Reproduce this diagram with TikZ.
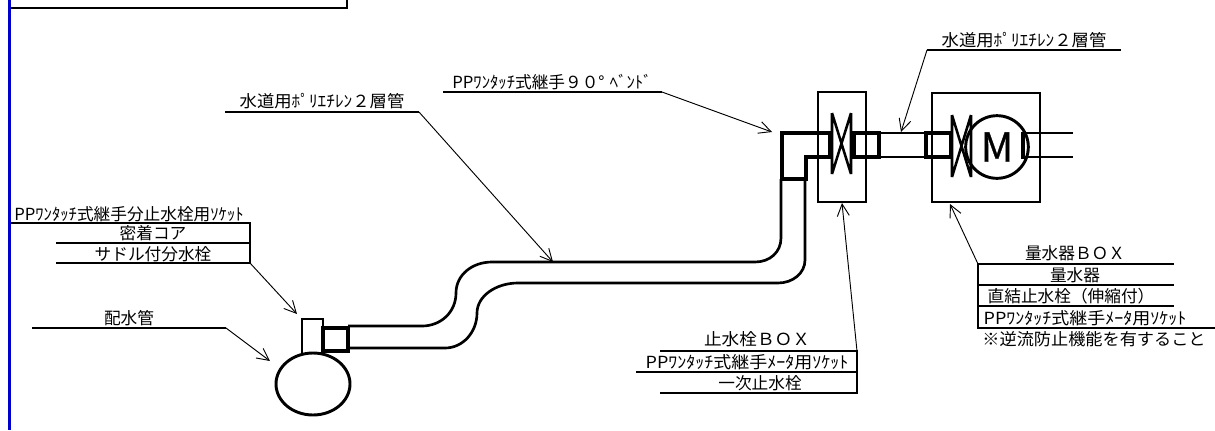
\documentclass[tikz,border=0pt]{standalone}
\usepackage{fontspec}
\setmainfont{Noto Sans CJK JP}
\usetikzlibrary{arrows.meta}
\definecolor{framebl}{RGB}{0,0,205}
\tikzset{
	lbl/.style={inner sep=0pt, font=\fontsize{12.5}{12.5}\selectfont},
	rule/.style={line width=1.9pt},
	leader/.style={line width=0.7pt, -{Straight Barb[length=9pt, width=9pt, line width=0.7pt]}},
	pipe/.style={line width=2pt},
	fitting/.style={line width=3pt},
	wall/.style={line width=1.1pt},
	valve/.style={line width=1.9pt},
}
\begin{document}
\begin{tikzpicture}[x=0.75pt, y=-0.75pt]
	\useasboundingbox(0,0)rectangle(1215,430);
	\fill[white](0,0)rectangle(1215,430);
	\draw[line width=2.4pt, framebl](9.5,0)--(9.5,430);
	\draw[line width=2.2pt](11,8)--(347,8)--(347,0);

	\node[lbl, xscale=1.04](pipeA)at(322,101){水道用ﾎﾟﾘｴﾁﾚﾝ２層管};
	\node[lbl](bend)at(552,82){PPﾜﾝﾀｯﾁ式継手９０°\hspace{4pt}ﾍﾞﾝﾄﾞ};
	\node[lbl, xscale=1.04](pipeB)at(1024,40){水道用ﾎﾟﾘｴﾁﾚﾝ２層管};
	\node[lbl](sock)at(129,214){PPﾜﾝﾀｯﾁ式継手分止水栓用ｿｹｯﾄ};
	\node[lbl](core)at(153,233){密着コア};
	\node[lbl](saddle)at(153,254){サドル付分水栓};
	\node[lbl](main)at(129,318){配水管};
	\node[lbl, xscale=1.06](stopbox)at(757,339){止水栓ＢＯＸ};
	\node[lbl, xscale=1.08](stopsock)at(747,362){PPﾜﾝﾀｯﾁ式継手ﾒｰﾀ用ｿｹｯﾄ};
	\node[lbl](stop)at(760,383){一次止水栓};
	\node[lbl](meterbox)at(1075,253){量水器ＢＯＸ};
	\node[lbl](meter)at(1075,275){量水器};
	\node[lbl](direct)at(1071,296){直結止水栓（伸縮付）};
	\node[lbl, xscale=1.08](metersock)at(1085,318){PPﾜﾝﾀｯﾁ式継手ﾒｰﾀ用ｿｹｯﾄ};
	\node[lbl, xscale=1.03](note)at(1094,339){※逆流防止機能を有すること};

	\coordinate(pipeAend)at(419,112);
	\coordinate(bendend)at(662,92);
	\coordinate(pipeBend)at(927,50);
	\coordinate(saddleend)at(250,263);
	\coordinate(mainend)at(226,328);
	\coordinate(stopend)at(857,351);
	\coordinate(meterend)at(978,264);

	\draw[rule](225,112)--(pipeAend);
	\draw[rule](443,92)--(bendend);
	\draw[rule](pipeBend)--(1121,50);
	\draw[rule](11,223)--(250,223)--(saddleend)--(56,263);
	\draw[rule](56,243)--(250,243);
	\draw[rule](32,328)--(mainend);
	\draw[rule](660,351)--(stopend)--(857,393)--(660,393);
	\draw[rule](636,372)--(857,372);
	\draw[rule](1174,264)--(meterend)--(978,328)--(1215,328);
	\draw[rule](978,285)--(1174,285);
	\draw[rule](978,306)--(1174,306);

	\coordinate(pipeAtip)at(553,262);
	\coordinate(bendtip)at(772,132);
	\coordinate(pipeBtip)at(901,132);
	\coordinate(saddletip)at(297,314);
	\coordinate(maintip)at(270,361);
	\coordinate(stoptip)at(842,203);
	\coordinate(metertip)at(950,204);
	\draw[leader](pipeAend)--(pipeAtip);
	\draw[leader](bendend)--(bendtip);
	\draw[leader](pipeBend)--(pipeBtip);
	\draw[leader](saddleend)--(saddletip);
	\draw[leader](mainend)--(maintip);
	\draw[leader](stopend)--(stoptip);
	\draw[leader](meterend)--(metertip);

	\draw[line width=2.2pt](313,384)ellipse[x radius=37, y radius=31];
	\draw[line width=2.2pt](302,353)--(302,319)--(323,319)--(323,353);
	\draw[fitting](323,328)rectangle(348,351);
	\draw[pipe](348,326)--(422,326).. controls (441,326) and (456,312) .. (456,293).. controls (456,275) and (472,262) .. (492,262)--(755,262).. controls (770,262) and (781,252) .. (781,238)--(781,179);
	\draw[pipe](348,348)--(445,348).. controls (463,348) and (477,332) .. (477,313).. controls (477,296) and (496,283) .. (518,283)--(778,283).. controls (793,283) and (805,273) .. (805,260)--(805,179);
	\draw[fitting](830,133)--(782,133)--(782,179)--(806,179)--(806,157)--(830,157)--cycle;

	\draw[wall](818,92)rectangle(866,202);
	\draw[wall](932,93)rectangle(1040,202);

	\draw[valve](832,113)--(851,174)(851,113)--(832,174)(832,113)--(832,174)(851,113)--(851,174);
	\draw[fitting](854,133)rectangle(879,157);
	\draw[pipe](879,133)--(926,133)(879,157)--(926,157);
	\draw[fitting](926,133)rectangle(951,157);
	\draw[valve](952,115)--(971,177)(971,115)--(952,177)(952,115)--(952,177)(971,115)--(971,177);

	\node[circle, draw, line width=2.2pt, minimum size=47, inner sep=0pt, font=\fontsize{30}{30}\selectfont\addfontfeature{FakeBold=0.8}](gauge)at(997,147){M};

	\draw[pipe](1073,133)--(1023,133)(1023,157)--(1073,157);
	\draw[fitting](1023,131.5)--(1023,158.5);
\end{tikzpicture}
\end{document}
